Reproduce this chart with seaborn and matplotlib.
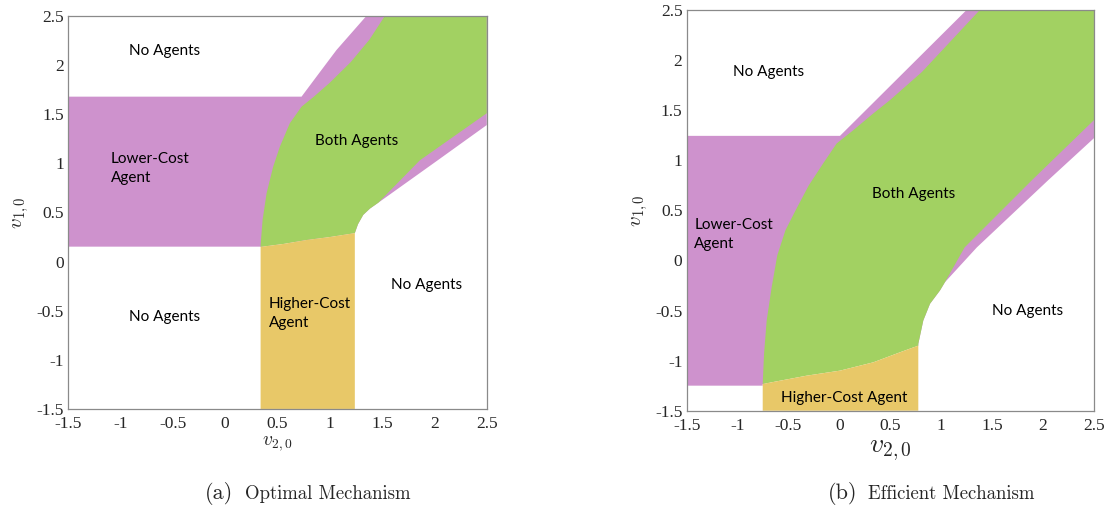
import numpy as np
import matplotlib
matplotlib.use("Agg")
import matplotlib.pyplot as plt
import seaborn as sns

sns.set_theme(style="white")
plt.rcParams.update({
    "font.family": ["Liberation Serif", "DejaVu Serif"],
    "mathtext.fontset": "cm",
    "axes.unicode_minus": False,
})

PURPLE = "#CE92CD"
GREEN = "#A2D162"
YELLOW = "#E8C868"
SERIF = ["Liberation Serif", "DejaVu Serif"]

ticks = [-1.5, -1, -0.5, 0, 0.5, 1, 1.5, 2, 2.5]
tick_labels = ["-1.5", "-1", "-0.5", "0", "0.5", "1", "1.5", "2", "2.5"]

# ---- (a) optimal mechanism: region boundaries ----
a_green_left_x = [0.34, 0.34, 0.359, 0.397, 0.46, 0.524, 0.619, 0.731, 0.85, 1.0, 1.2, 1.38, 1.526]
a_green_left_y = [0.15, 0.169, 0.424, 0.695, 0.966, 1.17, 1.408, 1.577, 1.68, 1.82, 2.03, 2.26, 2.5]
a_green_low_x = [2.5, 2.5, 1.86, 1.465, 1.385, 1.32, 1.27, 1.24]
a_green_low_y = [2.5, 1.51, 1.03, 0.60, 0.54, 0.475, 0.38, 0.29]
a_split_x = [1.24, 1.0, 0.779, 0.56, 0.34]          # green / yellow border
a_split_y = [0.29, 0.25, 0.22, 0.18, 0.15]
a_purple_top_x = [-1.5, -1.5, 0.731, 0.9, 1.065, 1.35, 2.5, 2.5, 2.03, 1.465]
a_purple_top_y = [0.152, 1.679, 1.679, 1.92, 2.154, 2.5, 2.5, 1.39, 1.03, 0.60]

# ---- (b) efficient mechanism ----
b_green_left_x = [-0.753, -0.74, -0.714, -0.665, -0.61, -0.53, -0.43, -0.3, -0.16,
                  -0.027, 0.137, 0.333, 0.497, 0.81, 1.38]
b_green_left_y = [-1.233, -0.933, -0.6, -0.267, 0.05, 0.3, 0.5, 0.75, 0.967,
                  1.167, 1.3, 1.467, 1.6, 1.88, 2.5]
b_green_low_x = [2.5, 2.5, 1.89, 1.23, 1.037, 0.988, 0.89, 0.824, 0.775, 0.775]
b_green_low_y = [2.5, 1.4, 0.8, 0.13, -0.217, -0.3, -0.433, -0.6, -0.833, -0.85]
b_split_x = [0.775, 0.595, 0.333, 0.006, -0.32, -0.753]
b_split_y = [-0.85, -0.917, -1.017, -1.1, -1.15, -1.233]
b_purple_top_x = [-1.5, -1.5, 0.006, 1.25, 2.5, 2.5, 2.05, 1.35, 1.037]
b_purple_top_y = [-1.25, 1.243, 1.243, 2.5, 2.5, 1.22, 0.8, 0.13, -0.217]


def draw_panel(ax, pt_x, pt_y, gl_x, gl_y, lo_x, lo_y, sp_x, sp_y):
    # purple underneath, then green, then yellow
    n_lo = [i for i, y in enumerate(lo_y) if y < pt_y[-1]]
    px = list(pt_x) + [lo_x[i] for i in n_lo] + [sp_x[-1], sp_x[-1]]
    py = list(pt_y) + [lo_y[i] for i in n_lo] + [sp_y[-1], pt_y[0]]
    ax.fill(px, py, color=PURPLE, lw=0)
    ax.fill(list(gl_x) + list(lo_x) + list(sp_x), list(gl_y) + list(lo_y) + list(sp_y),
            color=GREEN, lw=0)
    yx = [sp_x[-1]] + list(sp_x[::-1]) + [sp_x[0]]
    yy = [-1.5] + list(sp_y[::-1]) + [-1.5]
    ax.fill(yx, yy, color=YELLOW, lw=0)

    ax.set_xlim(-1.5, 2.5)
    ax.set_ylim(-1.5, 2.5)
    ax.set_xticks(ticks)
    ax.set_xticklabels(tick_labels, fontfamily=SERIF)
    ax.set_yticks(ticks)
    ax.set_yticklabels(tick_labels, fontfamily=SERIF)
    ax.tick_params(length=0, labelsize=12.5)
    ax.tick_params(axis="x", pad=5)
    ax.tick_params(axis="y", pad=3)
    for s in ax.spines.values():
        s.set_color("#8a8a8a")
        s.set_linewidth(0.9)


fig = plt.figure(figsize=(11.05, 5.08), dpi=100)
ax1 = fig.add_axes([0.0615, 0.195, 0.379, 0.7735])
ax2 = fig.add_axes([0.6214, 0.1915, 0.3686, 0.789])

draw_panel(ax1, a_purple_top_x, a_purple_top_y, a_green_left_x, a_green_left_y,
           a_green_low_x, a_green_low_y, a_split_x, a_split_y)
draw_panel(ax2, b_purple_top_x, b_purple_top_y, b_green_left_x, b_green_left_y,
           b_green_low_x, b_green_low_y, b_split_x, b_split_y)

lab = dict(family="Lato", fontsize=11, color="black")
ax1.text(-0.58, 2.14, "No Agents", ha="center", va="center", **lab)
ax1.text(-1.09, 0.95, "Lower-Cost\nAgent", ha="left", va="center", linespacing=1.45, **lab)
ax1.text(1.256, 1.228, "Both Agents", ha="center", va="center", **lab)
ax1.text(-0.58, -0.56, "No Agents", ha="center", va="center", **lab)
ax1.text(0.42, -0.525, "Higher-Cost\nAgent", ha="left", va="center", linespacing=1.45, **lab)
ax1.text(1.924, -0.24, "No Agents", ha="center", va="center", **lab)

ax2.text(-0.70, 1.88, "No Agents", ha="center", va="center", **lab)
ax2.text(0.733, 0.66, "Both Agents", ha="center", va="center", **lab)
ax2.text(-1.425, 0.26, "Lower-Cost\nAgent", ha="left", va="center", linespacing=1.45, **lab)
ax2.text(1.85, -0.5, "No Agents", ha="center", va="center", **lab)
ax2.text(0.048, -1.37, "Higher-Cost Agent", ha="center", va="center", **lab)

ax1.set_xlabel(r"$v_{\mathbf{2,0}}$", fontsize=14, labelpad=2)
ax1.set_ylabel(r"$v_{1,0}$", fontsize=15, labelpad=4)
ax2.set_xlabel(r"$v_{2,0}$", fontsize=20, labelpad=3)
ax2.set_ylabel(r"$v_{1,0}$", fontsize=15, labelpad=4)

cap_y = 1 - 499 / 508
fig.text(233 / 1105, cap_y, "(a)", family="cmr10", fontsize=16, ha="right", va="baseline")
fig.text(245 / 1105, cap_y, "Optimal Mechanism", family="cmr10", fontsize=13.5,
         ha="left", va="baseline")
fig.text(857 / 1105, cap_y, "(b)", family="cmr10", fontsize=16, ha="right", va="baseline")
fig.text(868 / 1105, cap_y, "Efficient Mechanism", family="cmr10", fontsize=13.5,
         ha="left", va="baseline")

fig.savefig("out.png", dpi=100)
